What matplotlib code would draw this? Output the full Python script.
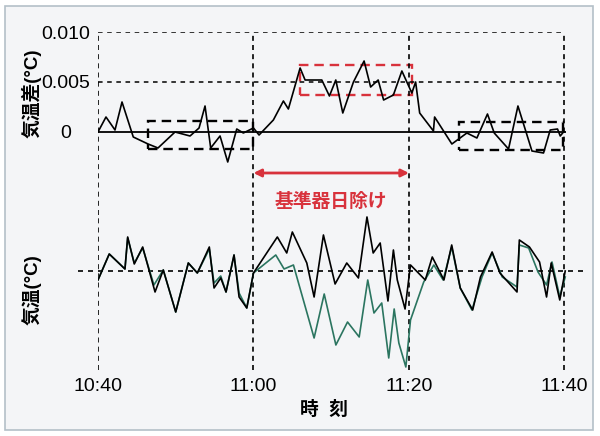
import matplotlib
matplotlib.use("Agg")
import matplotlib.pyplot as plt
from matplotlib.patches import Rectangle

plt.rcParams['font.family'] = ['Liberation Sans', 'Noto Sans CJK JP']

# minutes after 10:40
xtick_pos = [0, 20, 40, 60]
xtick_labels = ['10:40', '11:00', '11:20', '11:40']
ytick_pos = [0, 0.005, 0.010]
ytick_labels = ['0', '0.005', '0.010']

# 気温差 (top panel), in 1e-3 degC
diff_t = [0, 1.03, 2.19, 3.09, 4.54, 6.44, 7.72, 9.91, 11.84, 13.0, 13.77, 14.5,
          15.7, 16.69, 17.85, 18.7, 20.0, 20.72, 22.56, 23.85, 24.49, 26.0,
          26.64, 28.79, 29.77, 30.59, 31.49, 32.86, 34.23, 35.07, 36.04, 36.74,
          38.0, 39.09, 40.37, 40.86, 41.38, 43.15, 43.3, 45.52, 47.45, 48.74,
          50.1, 50.97, 52.81, 54.02, 55.82, 57.31, 58.17, 59.11, 59.46, 59.88]
diff_v = [0, 1.5, 0.2, 3.0, -0.5, -1.2, -1.6, 0.0, -0.4, 0.4, 2.6, -1.6,
          -0.4, -3.0, 0.3, -0.1, 0.4, -0.3, 1.2, 3.1, 2.3, 6.4,
          5.2, 5.2, 3.6, 5.2, 1.9, 5.0, 7.1, 4.5, 5.2, 3.2,
          3.7, 6.1, 3.9, 5.0, 1.9, 0.1, 1.5, -1.2, -0.1, -0.6,
          1.8, -0.1, -1.7, 2.6, -1.9, -2.1, 0.2, 0.3, -0.4, 0.0]

# 気温 (bottom panel), deviation from the dashed line, arbitrary units
air_t = [0, 1.45, 3.47, 3.82, 4.67, 5.75, 7.34, 8.4, 10.0, 11.62,
         12.78, 14.32, 14.93, 15.79, 16.47, 17.5, 18.15, 19.14, 20.0,
         23.07, 24.28, 25.0, 26.86, 27.8, 29.0, 30.5, 32.0, 33.5, 34.6,
         35.4, 36.3, 37.3, 38.0, 38.5, 39.5, 40.2,
         42.1, 43.0, 44.5, 45.5, 46.6, 48.2, 49.2, 50.7, 51.7,
         53.9, 54.2, 55.5, 56.8, 57.7, 58.3, 59.4, 60.1]
air_black = [-9, 17, 2, 34, 7, 24, -21, 1, -41, 8,
             -2, 24, -17, -7, -21, 16, -26, -37, -2,
             34, 18, 39, 8, -26, 36, -13, 8, -7, 54,
             18, 28, -30, 21, -9, -38, 6,
             -9, 14, -9, 26, -17, -39, -6, 19, -2,
             -21, 31, 24, 9, -26, 8, -29, 0]

ref_t = [0, 1.45, 3.47, 3.82, 4.67, 5.75, 7.2, 8.4, 10.0, 11.62,
         12.78, 14.32, 14.93, 15.79, 16.47, 17.5, 18.15, 19.14, 20.0,
         22.87, 23.94, 25.14, 27.8, 29.1, 30.6, 32.1, 33.6, 34.7,
         35.5, 36.5, 37.4, 38.1, 38.7, 39.6, 40.2,
         41.9, 43.2, 44.4, 45.5, 46.6, 48.1, 49.4, 50.7, 52.0,
         53.9, 54.2, 55.4, 56.6, 57.7, 58.4, 59.4, 60.1]
ref_green = [-9, 17, 2, 33, 8, 23, -14, 1, -41, 8,
             -2, 22, -12, -5, -21, 16, -22, -37, -2,
             16, 2, 6, -67, -23, -74, -51, -66, -9,
             -42, -32, -87, -38, -72, -96, -49,
             -11, 6, -9, 24, -17, -39, -6, 18, -6,
             -16, 26, 23, -1, -14, 9, -26, -6]

red = '#d8323c'
green = '#2b7560'
dash = (0, (3, 3))

fig = plt.figure(figsize=(6, 4.36), dpi=100, facecolor='white')
fig.patches.append(Rectangle((0.009, 0.014), 0.98, 0.972, transform=fig.transFigure,
                             facecolor='#f4f5f7', edgecolor='#b4c0c8', lw=1.2,
                             zorder=-10))

ax1 = fig.add_axes([0.1633, 0.5069, 0.815, 0.4197])
ax2 = fig.add_axes([0.1633, 0.1468, 0.815, 0.3601])
for ax in (ax1, ax2):
    ax.set_facecolor('none')
    for s in ax.spines.values():
        s.set_visible(False)
    ax.set_xlim(0, 62.9)
    ax.tick_params(length=0)

# top panel
ax1.set_ylim(-0.0083, 0.010)
ax1.hlines([0.005, 0.010], 0, 60, colors='black', linestyles=dash, lw=1.1)
ax1.vlines(xtick_pos, -0.0083, 0.010, colors='black', linestyles=(0, (3, 2.5)), lw=1.2)
ax1.hlines(0, 0, 60.2, colors='black', lw=1.3)
ax1.plot(diff_t, [v * 1e-3 for v in diff_v], color='black', lw=1.2)

for (x0, y0, w, h, c) in [(6.4, -0.0017, 13.5, 0.0028, 'black'),
                          (26.0, 0.0037, 14.45, 0.0030, red),
                          (46.4, -0.0018, 13.4, 0.00277, 'black')]:
    ax1.add_patch(Rectangle((x0, y0), w, h, fill=False, edgecolor=c,
                            linestyle=(0, (4, 2.5)), lw=1.7))

ax1.set_xticks([])
ax1.set_yticks(ytick_pos)
ax1.set_yticklabels(ytick_labels, fontsize=14, ha='center')
ax1.tick_params(axis='y', pad=23)

ax1.annotate('', xy=(40, -0.0041), xytext=(20, -0.0041),
             arrowprops=dict(arrowstyle='<|-|>', color=red, lw=2,
                             mutation_scale=11, shrinkA=0, shrinkB=0))
ax1.text(29.9, -0.0070, '基準器日除け', color=red, fontsize=13.5,
         fontweight='bold', ha='center', va='center')

# bottom panel
ax2.set_ylim(-101, 56)
ax2.hlines(0, -2.57, 62.9, colors='black', linestyles=dash, lw=1.2, clip_on=False)
ax2.vlines(xtick_pos, -99, 56, colors='black', linestyles=(0, (3, 2.5)), lw=1.2)
ax2.plot(ref_t, ref_green, color=green, lw=1.2)
ax2.plot(air_t, air_black, color='black', lw=1.2)
ax2.set_yticks([])
ax2.set_xticks(xtick_pos)
ax2.set_xticklabels(xtick_labels, fontsize=14)
ax2.tick_params(axis='x', pad=4)

fig.text(0.052, 0.787, '気温差(°C)', rotation=90, ha='center', va='center',
         fontsize=13.5, fontweight='bold')
fig.text(0.052, 0.335, '気温(°C)', rotation=90, ha='center', va='center',
         fontsize=13.5, fontweight='bold')
fig.text(0.54, 0.06, '時  刻', ha='center', va='center', fontsize=13.5,
         fontweight='bold')

fig.savefig('out.png', dpi=100, facecolor=fig.get_facecolor())
